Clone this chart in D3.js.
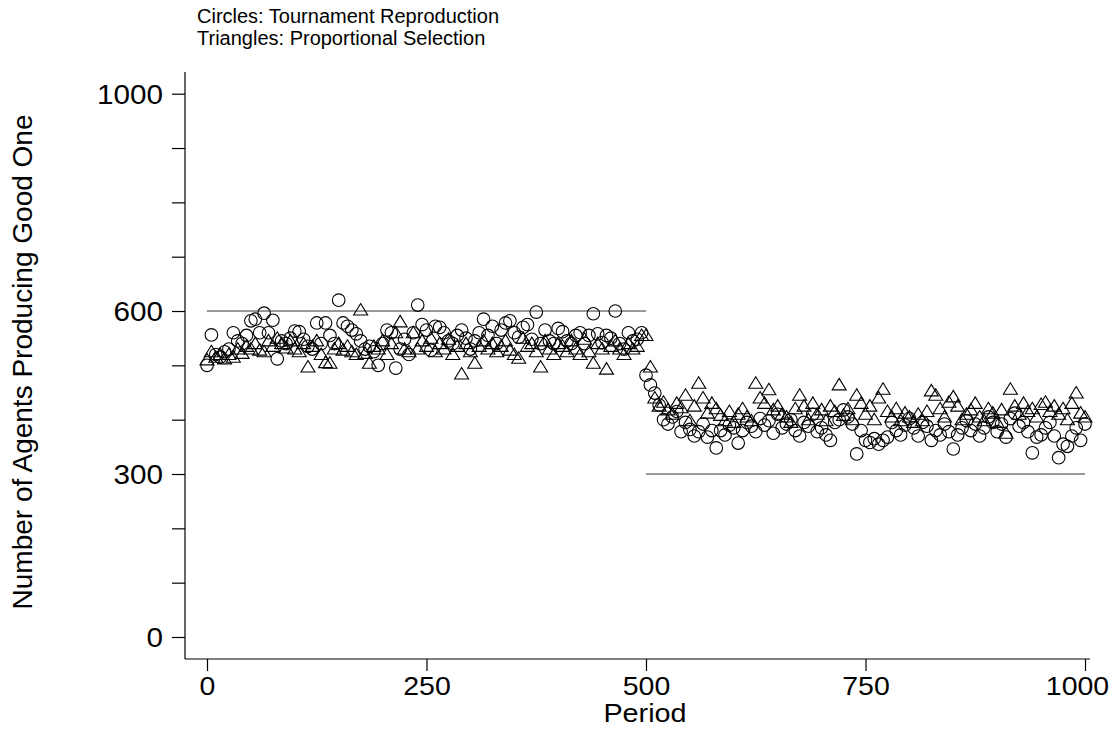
<!DOCTYPE html>
<html>
<head>
<meta charset="utf-8">
<script src="https://cdn.jsdelivr.net/npm/d3@7"></script>
<style>
  body { margin: 0; background: #fff; }
  text { font-family: "Liberation Sans", Arial, sans-serif; fill: #000; }
</style>
</head>
<body>
<div id="container"></div>
<script>
// sampled every 5 periods
const periods = d3.range(0, 1001, 5);

const circles = [
  500,556,520,515,525,530,560,545,540,555,
  582,585,560,596,560,583,512,545,540,550,
  563,562,548,535,530,578,540,578,555,540,
  620,578,572,565,558,545,530,535,525,500,
  540,565,560,495,530,548,520,560,611,575,
  565,528,572,570,560,545,540,555,565,550,
  530,545,560,585,555,572,540,565,578,582,
  560,552,570,575,548,598,540,565,545,540,
  568,562,545,540,555,560,540,555,595,558,
  542,555,550,600,540,530,560,545,548,560,
  482,464,449,427,400,392,405,415,378,395,
  382,370,378,392,368,380,348,380,372,390,
  385,357,380,395,388,378,402,390,398,375,
  410,385,392,400,380,370,395,388,410,378,
  385,372,362,395,400,418,405,392,337,380,
  362,358,365,355,362,368,395,380,372,390,
  402,385,370,395,388,362,380,372,392,378,
  346,372,385,398,380,392,370,385,405,395,
  378,392,368,402,412,388,395,378,339,368,
  372,385,395,370,330,355,351,370,385,362,
  392
];

const triangles = [
  510,525,515,520,512,520,515,530,522,535,
  530,540,528,525,545,535,550,540,532,545,
  530,525,540,497,535,545,520,505,504,530,
  540,528,535,525,520,602,522,504,535,530,
  545,520,540,560,580,530,525,560,530,545,
  535,550,525,540,530,548,520,535,484,540,
  525,504,535,545,530,540,525,535,545,528,
  520,513,550,535,540,525,497,545,530,520,
  540,535,525,545,530,520,548,525,504,540,
  530,493,535,545,530,520,540,530,535,555,
  555,497,440,425,432,418,410,430,422,445,
  398,425,467,440,412,430,420,408,398,415,
  395,410,420,405,398,467,440,430,455,418,
  425,410,405,395,420,445,425,400,430,410,
  418,398,425,415,464,408,420,400,445,430,
  410,425,400,440,456,415,405,420,398,412,
  405,395,410,398,415,453,445,420,405,432,
  442,425,400,410,418,430,405,398,420,412,
  395,418,375,456,425,410,430,415,420,405,
  428,432,415,425,410,420,400,430,449,412,
  405
];

// equilibrium reference lines
const refLines = [
  { from: 0, to: 500, value: 600 },
  { from: 500, to: 1000, value: 300 }
];

const xTicks = [0, 250, 500, 750, 1000];
const yTicks = d3.range(0, 1001, 100);
const yLabels = [0, 300, 600, 1000];
const titleLines = ["Circles: Tournament Reproduction", "Triangles: Proportional Selection"];

const width = 1115, height = 730;
const svg = d3.select('#container').append('svg')
  .attr('width', width).attr('height', height);

const x = d3.scaleLinear().domain([0, 1000]).range([207, 1085]);
const y = d3.scaleLinear().domain([0, 1000]).range([637, 93.7]);
const axisX = 185, axisY = 659;

// stretch text a bit wider, the original font runs wide
function widen(sel, k) {
  sel.each(function() {
    const len = this.getComputedTextLength();
    d3.select(this).attr('textLength', len * k).attr('lengthAdjust', 'spacingAndGlyphs');
  });
}

// y axis
const gy = svg.append('g').attr('transform', `translate(${axisX},0)`)
  .call(d3.axisLeft(y).tickValues(yTicks).tickSize(13)
    .tickFormat(d => yLabels.includes(d) ? d : ''));
gy.select('.domain').remove();
gy.append('line').attr('x1', 0).attr('x2', 0).attr('y1', 72).attr('y2', axisY)
  .attr('stroke', '#000').attr('stroke-width', 1.2);
gy.selectAll('.tick line').attr('stroke', '#000').attr('stroke-width', 1.2);
gy.selectAll('.tick text').attr('x', -22).attr('dy', '0.36em')
  .style('font-size', '27px').style('font-family', '"Liberation Sans", Arial, sans-serif')
  .attr('fill', '#000').call(widen, 1.1);

// x axis
const gx = svg.append('g').attr('transform', `translate(0,${axisY})`)
  .call(d3.axisBottom(x).tickValues(xTicks).tickSize(12).tickFormat(d3.format('d')));
gx.select('.domain').remove();
gx.append('line').attr('x1', axisX).attr('x2', 1090).attr('y1', 0).attr('y2', 0)
  .attr('stroke', '#000').attr('stroke-width', 1.2);
gx.selectAll('.tick line').attr('stroke', '#000').attr('stroke-width', 1.2);
gx.selectAll('.tick text').attr('y', 36).attr('dy', 0)
  .attr('dx', d => d === 1000 ? -8 : 0)
  .style('font-size', '25px').style('font-family', '"Liberation Sans", Arial, sans-serif')
  .attr('fill', '#000').call(widen, 1.14);

// axis titles
svg.append('text').attr('x', 645).attr('y', 722).attr('text-anchor', 'middle')
  .style('font-size', '25px').text('Period').call(widen, 1.15);
svg.append('text').attr('transform', 'translate(32,362) rotate(-90)')
  .attr('text-anchor', 'middle').style('font-size', '28px')
  .text('Number of Agents Producing Good One');

// title
svg.selectAll('.title').data(titleLines).join('text').attr('class', 'title')
  .attr('x', 197).attr('y', (d, i) => 23 + i * 22)
  .style('font-size', '20px').text(d => d);

// reference lines
svg.selectAll('.ref').data(refLines).join('line').attr('class', 'ref')
  .attr('x1', d => x(d.from)).attr('x2', d => x(d.to))
  .attr('y1', d => y(d.value)).attr('y2', d => y(d.value))
  .attr('stroke', '#333').attr('stroke-width', 1);

// markers
const tri = 'M0,-6.5L7,5L-7,5Z';
svg.append('g').selectAll('path').data(periods).join('path')
  .attr('transform', (d, i) => `translate(${x(d)},${y(triangles[i])})`)
  .attr('d', tri).attr('fill', 'none').attr('stroke', '#000').attr('stroke-width', 1.1);
svg.append('g').selectAll('circle').data(periods).join('circle')
  .attr('cx', d => x(d)).attr('cy', (d, i) => y(circles[i])).attr('r', 6.3)
  .attr('fill', 'none').attr('stroke', '#000').attr('stroke-width', 1.1);
</script>
</body>
</html>
